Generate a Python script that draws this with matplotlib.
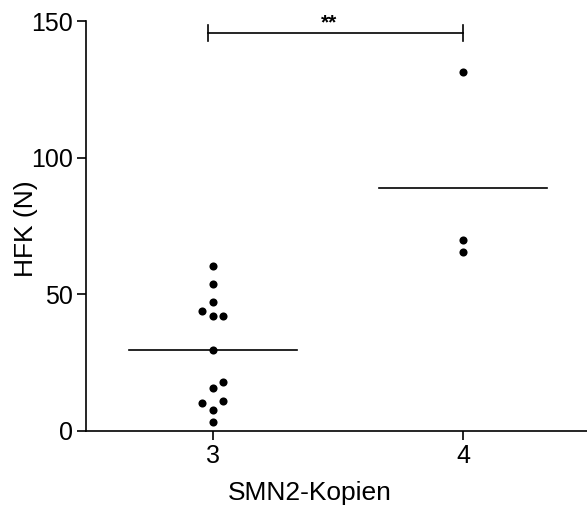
import numpy as np
import matplotlib.pyplot as plt

plt.rcParams['font.family'] = ['Liberation Sans', 'DejaVu Sans']

# HFK-Werte (N) je Gruppe
kopien = [3, 4]
hfk_3 = [60.3, 53.7, 47.1, 43.8, 42.0, 42.0, 29.5, 17.7, 15.7, 10.0, 10.7, 7.5, 3.0]
hfk_4 = [131.2, 69.9, 65.5]
# seitliche Verschiebung der Punkte (Beeswarm)
versatz_3 = [0, 0, 0, -1, 0, 1, 0, 1, 0, -1, 1, 0, 0]
versatz_4 = [0, 0, 0]
yticks = [0, 50, 100, 150]

fig = plt.figure(figsize=(5.87, 5.11), dpi=100)
ax = fig.add_axes([0.1465, 0.1575, 0.8535, 0.8014])

dx = 0.041
for k, werte, vs in [(kopien[0], hfk_3, versatz_3), (kopien[1], hfk_4, versatz_4)]:
    xs = k + dx * np.array(vs)
    ax.scatter(xs, werte, s=34, color='black', zorder=3, linewidths=0)
    m = np.mean(werte)
    ax.plot([k - 0.335, k + 0.335], [m, m], color='black', lw=1.2)

# Signifikanzbalken
ax.plot([2.98, 4.0], [145.6, 145.6], color='black', lw=1.2, clip_on=False)
ax.plot([2.98, 2.98], [142.6, 148.6], color='black', lw=1.2, clip_on=False)
ax.plot([4.0, 4.0], [142.6, 148.6], color='black', lw=1.2, clip_on=False)
ax.text(3.466, 146.0, '**', ha='center', va='bottom', fontsize=15, fontweight='bold')

ax.set_xlim(2.494, 4.494)
ax.set_ylim(0, 150)
ax.set_xticks(kopien)
ax.set_yticks(yticks)
ax.tick_params(direction='out', length=6.5, width=1.2, labelsize=18, pad=3)
for s in ['top', 'right']:
    ax.spines[s].set_visible(False)
for s in ['left', 'bottom']:
    ax.spines[s].set_linewidth(1.2)

# Achsenbeschriftungen
fig.text(0.528, 0.035, 'SMN2-Kopien', ha='center', va='center', fontsize=19)
fig.text(0.0443, 0.552, 'HFK (N)', ha='center', va='center', fontsize=19, rotation=90)

fig.savefig('out.png', dpi=100)
